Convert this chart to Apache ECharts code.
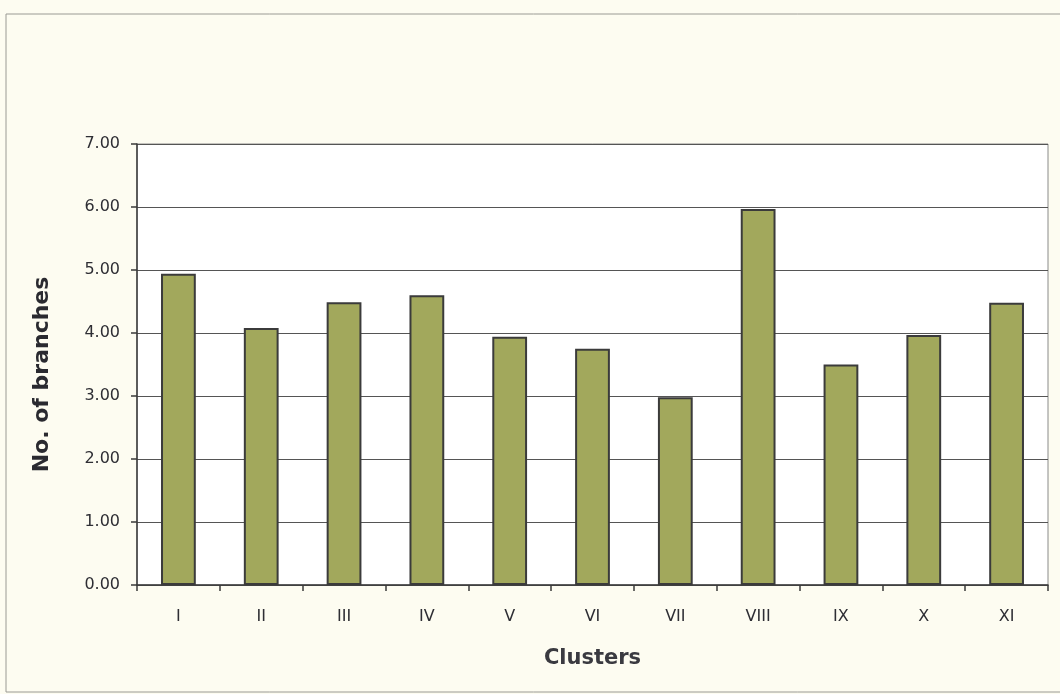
<!DOCTYPE html>
<html>
<head>
<meta charset="utf-8">
<script src="https://cdn.jsdelivr.net/npm/echarts@6/dist/echarts.min.js"></script>
<style>
  html, body { margin: 0; padding: 0; background: #fdfcf1; }
  #chart { width: 1060px; height: 694px; }
</style>
</head>
<body>
<div id="chart"></div>
<script>
// Mean number of branches per cluster
const clusters = ['I', 'II', 'III', 'IV', 'V', 'VI', 'VII', 'VIII', 'IX', 'X', 'XI'];
const branches = [4.94, 4.08, 4.49, 4.60, 3.94, 3.75, 2.98, 5.97, 3.50, 3.97, 4.48];

const FONT = 'DejaVu Sans';
const chart = echarts.init(document.getElementById('chart'), null, { renderer: 'canvas' });

chart.setOption({
  backgroundColor: '#fdfcf1',
  animation: false,
  graphic: [{
    type: 'rect',
    shape: { x: 6, y: 14, width: 1070, height: 678 },
    style: { fill: 'none', stroke: '#9a9a94', lineWidth: 1 },
    z: -1
  }],
  grid: {
    left: 137, right: 12, top: 144, bottom: 109,
    show: true, backgroundColor: '#ffffff', borderColor: '#8a8a8a', borderWidth: 1
  },
  xAxis: {
    type: 'category',
    data: clusters,
    name: 'Clusters',
    nameLocation: 'middle',
    nameGap: 63,
    nameTextStyle: { fontFamily: FONT, fontSize: 21, fontWeight: 'bold', color: '#3a3a40' },
    axisLine: { lineStyle: { color: '#3a3a3a', width: 1.5 } },
    axisTick: { show: true, alignWithLabel: false, length: 6, lineStyle: { color: '#3a3a3a', width: 1.5 } },
    axisLabel: { margin: 24, fontFamily: FONT, fontSize: 16, color: '#2e2e34' }
  },
  yAxis: {
    type: 'value',
    min: 0, max: 7, interval: 1,
    name: 'No. of branches',
    nameLocation: 'middle',
    nameGap: 84,
    nameTextStyle: {
      fontFamily: FONT, fontSize: 22, fontWeight: 'bold', color: '#2a2a30',
      padding: [0, 20, 0, 0]
    },
    axisLine: { show: true, lineStyle: { color: '#3a3a3a', width: 1.5 } },
    axisTick: { show: true, length: 6, lineStyle: { color: '#3a3a3a', width: 1.5 } },
    axisLabel: {
      margin: 17, fontFamily: FONT, fontSize: 16, color: '#2e2e34',
      formatter: v => v.toFixed(2)
    },
    splitLine: { lineStyle: { color: '#555555', width: 1.2 } }
  },
  series: [{
    type: 'bar',
    data: branches,
    barWidth: '42%',
    itemStyle: { color: '#a2a85c', borderColor: '#3b3b3b', borderWidth: 2 }
  }]
});
</script>
</body>
</html>
